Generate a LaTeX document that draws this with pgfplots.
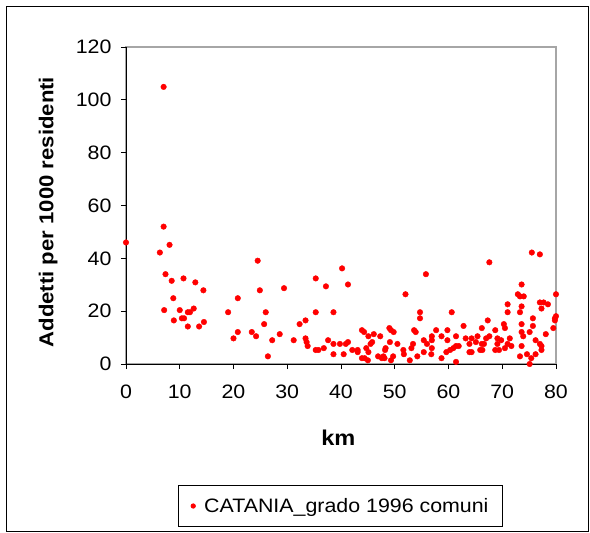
\documentclass[border=0pt]{standalone}
\usepackage{fontspec}
\setmainfont{Liberation Sans}[FakeStretch=1.1]
\usepackage{pgfplots}
\pgfplotsset{compat=1.18}

\pgfplotstableread{
km val
0 46
6.3 42.2
7.0 104.9
7.0 52
7.35 34
7.1 20.4
8.1 45.1
8.5 31.5
8.8 24.9
8.9 16.5
10.0 20.4
10.4 17.3
10.8 17.3
10.7 32.4
11.5 14.2
11.5 19.6
11.9 19.6
12.6 21.0
12.9 30.9
13.6 14.2
14.4 27.9
14.5 15.9
19.0 19.6
20.0 9.7
20.8 24.9
20.8 12.1
23.4 12.1
24.2 10.5
24.5 39.1
24.9 27.9
25.7 15.1
26.0 19.6
26.4 2.9
27.2 9.0
28.6 11.3
29.4 28.7
31.2 9.0
32.3 15.1
33.4 16.5
33.4 9.7
33.6 8.3
33.8 6.8
35.3 5.3
35.8 5.3
35.3 19.6
35.3 32.4
36.8 6.0
37.2 29.4
37.6 9.0
38.6 7.6
38.6 3.7
38.6 19.6
39.8 7.6
40.2 36.2
40.5 3.7
40.9 7.6
41.3 8.3
41.3 30.1
42.1 5.3
43.1 5.3
43.1 4.5
43.9 12.8
43.9 2.2
44.3 12.1
44.4 2.2
44.7 6.0
45.0 1.4
45.1 10.5
45.1 4.5
45.5 7.6
45.8 8.3
46.1 11.3
46.9 2.9
47.3 10.5
47.6 2.2
47.9 2.9
48.2 5.3
48.3 6.0
48.1 2.2
49.0 13.6
49.1 8.3
49.3 12.8
49.3 1.4
49.7 2.9
49.8 12.1
50.5 7.6
51.6 5.3
51.7 3.7
52.0 26.4
52.8 1.4
53.1 6.0
53.4 7.6
53.6 12.8
53.9 12.1
54.2 2.9
54.7 19.6
54.7 17.3
55.4 9.0
55.4 4.5
55.8 34.0
56.0 7.6
56.8 3.7
56.9 10.5
56.9 9.0
56.9 6.0
57.7 12.8
58.7 10.5
58.7 2.2
59.8 12.8
59.8 9.0
59.6 4.5
60.6 19.6
60.3 5.3
60.9 6.0
61.4 0.8
61.4 10.5
61.4 6.8
61.9 6.8
62.8 14.4
63.2 9.7
63.9 7.6
63.9 4.5
64.3 9.7
64.3 4.5
65.1 8.3
65.4 10.5
65.9 5.3
66.2 13.6
66.2 7.6
66.6 7.6
66.3 5.3
67.0 9.7
67.3 16.5
67.6 38.5
67.6 10.5
68.7 12.8
68.7 5.3
69.1 9.7
69.1 7.6
69.4 5.3
69.8 9.0
70.3 15.1
70.5 13.6
70.5 6.0
71.0 19.6
71.0 22.6
71.0 7.6
71.4 9.7
71.7 6.8
72.9 26.4
73.3 25.6
73.3 19.6
73.3 2.9
73.6 30.1
73.6 21.8
73.6 15.1
73.6 12.1
73.6 6.8
73.9 10.5
74.0 25.6
74.6 3.7
75.1 0
75.1 12.1
75.4 2.2
75.5 42.2
75.7 17.3
75.7 14.4
76.2 9.0
76.2 3.7
77.0 41.5
77.0 23.3
77.0 7.6
77.3 6.8
77.3 5.3
77.3 21.0
77.7 23.3
78.1 11.3
78.5 22.6
79.5 13.6
79.8 17.3
80 18.1
80 26.4
79.8 16.5
}\catania

\begin{document}
\begin{tikzpicture}
  \useasboundingbox (0,0) rectangle (590bp,533bp);
  \draw[black, line width=0.8bp] (6bp,2bp) rectangle (588bp,527bp);
  \begin{axis}[
    at={(126bp,169bp)}, anchor=south west,
    scale only axis,
    width=430bp, height=317bp,
    xmin=0, xmax=80, ymin=0, ymax=120,
    xtick={0,10,...,80},
    ytick={0,20,...,120},
    axis x line*=bottom,
    axis y line*=left,
    axis line style={black, line width=0.9bp},
    axis background/.style={draw=gray!70, line width=1.2bp},
    tick align=outside,
    major tick length=5bp,
    tick style={black, line width=0.8bp},
    /pgf/number format/assume math mode=true,
    tick label style={font=\fontsize{19.5}{22}\selectfont},
    xticklabel style={yshift=-12bp},
    yticklabel style={xshift=-6bp},
    xlabel={\textbf{km}},
    ylabel={\textbf{Addetti per 1000 residenti}},
    xlabel style={font=\fontsize{21.5}{24}\selectfont,
      at={(axis description cs:0.494,-0.233)}, anchor=center},
    ylabel style={font=\fontsize{20.2}{24}\selectfont,
      at={(axis description cs:-0.181,0.479)}, anchor=center},
    legend style={
      at={(axis description cs:0.499,-0.448)}, anchor=center,
      draw=black, line width=0.8bp,
      font=\fontsize{19.5}{24}\selectfont,
      inner xsep=12bp, inner ysep=11bp,
    },
    legend cell align=left,
    legend image code/.code={
      \path[draw=none, fill=none] (-2.5bp,0) rectangle (9bp,0.1bp);
      \fill[red] (0,0) circle (2.2bp);},
  ]
    \addplot[only marks, mark=*, mark size=2.8bp, red, mark options={draw=red, fill=red}]
      table[x=km, y=val] {\catania};
    \addlegendentry{CATANIA\_grado 1996 comuni}
  \end{axis}
\end{tikzpicture}
\end{document}
